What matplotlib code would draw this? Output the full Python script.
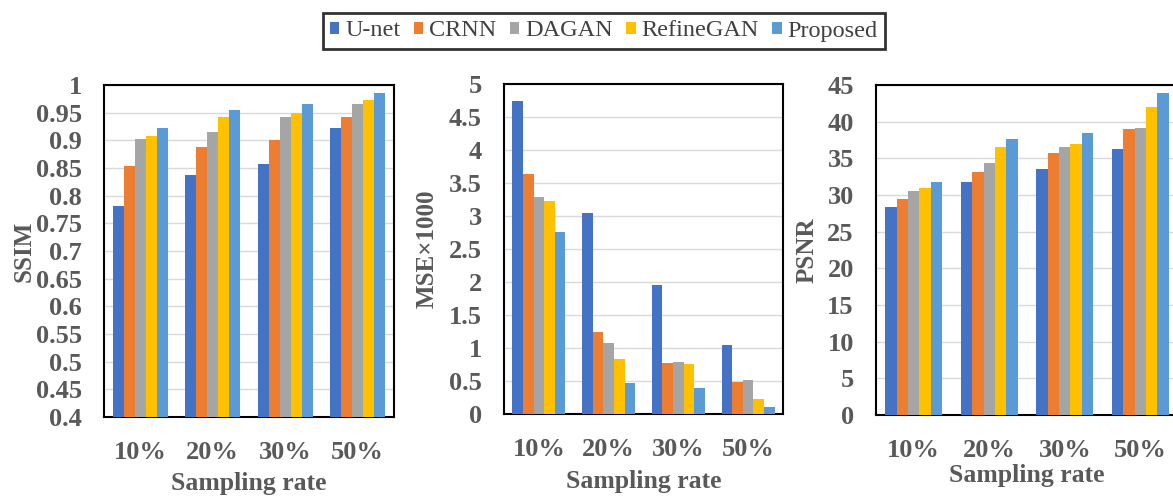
import matplotlib
matplotlib.use("Agg")
import matplotlib.pyplot as plt
import numpy as np
from matplotlib.ticker import FuncFormatter

categories = ["10%", "20%", "30%", "50%"]
methods = ["U-net", "CRNN", "DAGAN", "RefineGAN", "Proposed"]
colors = ["#4472C4", "#ED7D31", "#A5A5A5", "#FFC000", "#5B9BD5"]

ssim_unet = [0.781, 0.838, 0.857, 0.922]
ssim_crnn = [0.853, 0.888, 0.900, 0.942]
ssim_dagan = [0.902, 0.915, 0.943, 0.966]
ssim_refine = [0.907, 0.943, 0.950, 0.972]
ssim_prop = [0.922, 0.955, 0.966, 0.985]

mse_unet = [4.75, 3.04, 1.95, 1.05]
mse_crnn = [3.63, 1.24, 0.78, 0.49]
mse_dagan = [3.29, 1.08, 0.79, 0.52]
mse_refine = [3.22, 0.84, 0.76, 0.22]
mse_prop = [2.76, 0.47, 0.40, 0.10]

psnr_unet = [28.3, 31.8, 33.6, 36.3]
psnr_crnn = [29.5, 33.2, 35.7, 39.0]
psnr_dagan = [30.6, 34.3, 36.6, 39.1]
psnr_refine = [31.0, 36.5, 36.9, 42.0]
psnr_prop = [31.8, 37.7, 38.5, 43.9]

W, H = 1173, 496
fig = plt.figure(figsize=(W / 100, H / 100), dpi=100)

serif = "Liberation Serif"
gray = "#595959"

panels = [
    dict(rect=[104, 85, 290, 332], data=[ssim_unet, ssim_crnn, ssim_dagan, ssim_refine, ssim_prop],
         ylim=(0.4, 1.0), ticks=np.arange(0.4, 1.0001, 0.05), ylabel="SSIM", xlabpad=6, ylabpad=0),
    dict(rect=[504, 84, 279, 330], data=[mse_unet, mse_crnn, mse_dagan, mse_refine, mse_prop],
         ylim=(0, 5), ticks=np.arange(0, 5.0001, 0.5), ylabel="MSE×1000", xlabpad=7, ylabpad=7),
    dict(rect=[876, 85, 302, 330], data=[psnr_unet, psnr_crnn, psnr_dagan, psnr_refine, psnr_prop],
         ylim=(0, 45), ticks=np.arange(0, 45.001, 5), ylabel="PSNR", xlabpad=1.5, ylabpad=6),
]

x = np.arange(len(categories))
bw = 0.152
handles = None
for p in panels:
    l, t, w, h = p["rect"]
    ax = fig.add_axes([l / W, (H - t - h) / H, w / W, h / H])
    bars = []
    for i, (vals, c) in enumerate(zip(p["data"], colors)):
        b = ax.bar(x + (i - 2) * bw, vals, width=bw, color=c, label=methods[i], zorder=3)
        bars.append(b)
    handles = bars
    ax.set_xlim(-0.5, 3.5)
    ax.set_ylim(*p["ylim"])
    ax.set_yticks(p["ticks"])
    ax.yaxis.set_major_formatter(FuncFormatter(lambda v, pos: ("%.2f" % v).rstrip("0").rstrip(".")))
    ax.set_xticks(x)
    ax.set_xticklabels(categories)
    ax.grid(axis="y", color="#d9d9d9", linewidth=1.0, zorder=0)
    ax.tick_params(axis="both", length=0, labelsize=19, labelcolor=gray)
    ax.tick_params(axis="x", pad=17)
    ax.tick_params(axis="y", pad=16)
    for lab in ax.get_xticklabels() + ax.get_yticklabels():
        lab.set_fontfamily(serif)
        lab.set_fontweight("bold")
    for s in ax.spines.values():
        s.set_color("black")
        s.set_linewidth(1.5)
    ax.set_ylabel(p["ylabel"], fontsize=18, fontfamily=serif, fontweight="bold", color=gray,
                  labelpad=p["ylabpad"])
    ax.set_xlabel("Sampling rate", fontsize=18.5, fontfamily=serif, fontweight="bold", color=gray,
                  labelpad=p["xlabpad"])

leg = fig.legend(handles=handles, labels=methods, loc="center", bbox_to_anchor=(604 / W, 1 - 31 / H),
                 ncol=5, frameon=True, fancybox=False, edgecolor="black",
                 prop=dict(family=serif, size=17.5), handlelength=0.38, handleheight=0.42,
                 handletextpad=0.25, columnspacing=0.55, borderpad=0.3)
leg.get_frame().set_linewidth(2)
for txt in leg.get_texts():
    txt.set_color("#404040")

fig.savefig("out.png", dpi=100)
